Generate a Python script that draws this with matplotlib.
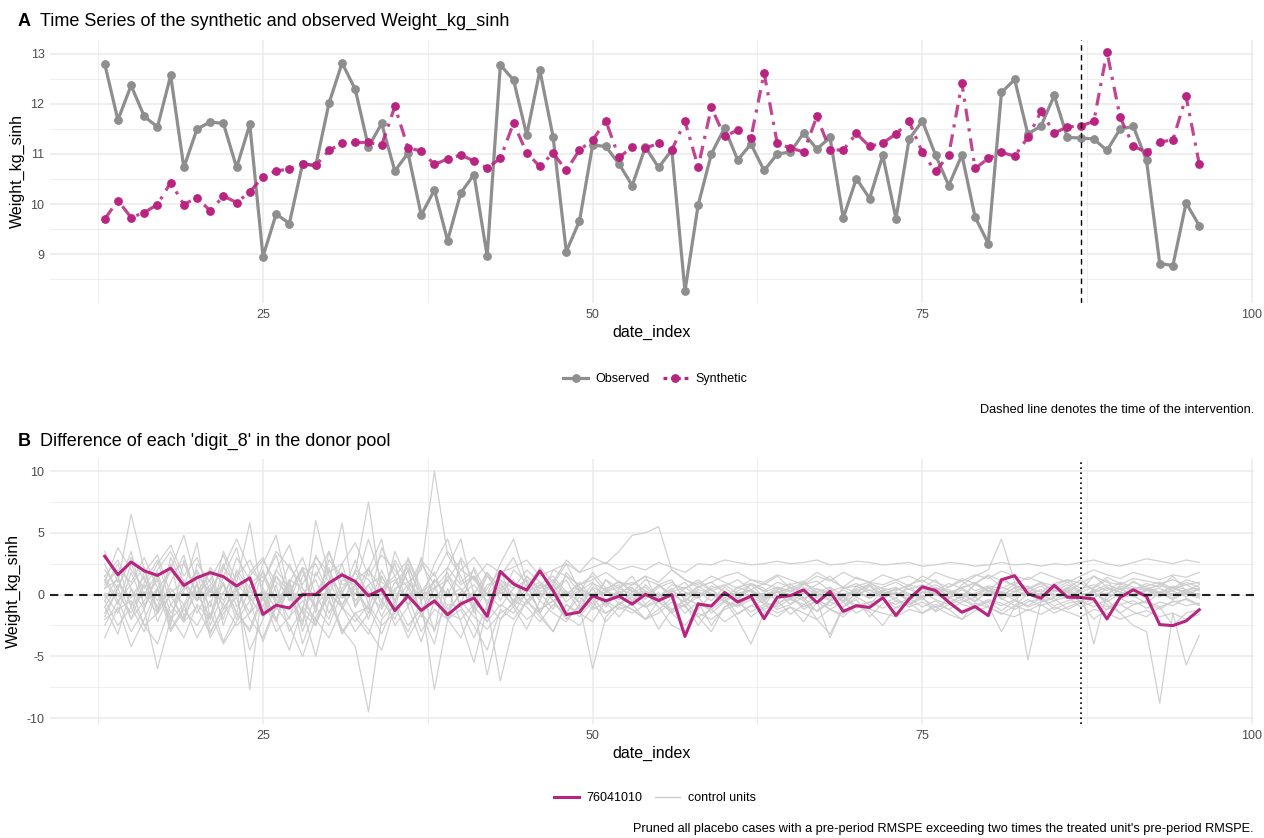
import numpy as np
import matplotlib
matplotlib.use("Agg")
import matplotlib.pyplot as plt
from matplotlib.lines import Line2D

plt.rcParams["font.family"] = ["Liberation Sans", "DejaVu Sans"]
plt.rcParams["axes.unicode_minus"] = False

# ---------------------------------------------------------------- data
date_index = list(range(13, 97))
intervention = 87

observed = [
    12.80, 11.68, 12.37, 11.75, 11.54, 12.57, 10.73, 11.50, 11.64, 11.61,
    10.73, 11.59, 8.95, 9.80, 9.61, 10.80, 10.77, 12.01, 12.82, 12.29,
    11.14, 11.61, 10.66, 11.02, 9.78, 10.28, 9.27, 10.22, 10.59, 8.96,
    12.78, 12.48, 11.38, 12.67, 11.34, 9.05, 9.66, 11.18, 11.15, 10.80,
    10.37, 11.14, 10.73, 11.08, 8.26, 9.98, 11.00, 11.52, 10.88, 11.20,
    10.67, 11.00, 11.04, 11.42, 11.10, 11.33, 9.72, 10.51, 10.11, 10.97,
    9.71, 11.30, 11.66, 10.98, 10.37, 10.98, 9.74, 9.21, 12.23, 12.49,
    11.40, 11.56, 12.17, 11.33, 11.32, 11.30, 11.07, 11.50, 11.55, 10.87,
    8.81, 8.77, 10.02, 9.57,
]

synthetic = [
    9.70, 10.07, 9.73, 9.83, 9.99, 10.43, 9.99, 10.13, 9.86, 10.16,
    10.03, 10.24, 10.55, 10.66, 10.70, 10.80, 10.77, 11.07, 11.22, 11.23,
    11.23, 11.18, 11.95, 11.12, 11.06, 10.79, 10.90, 10.98, 10.86, 10.72,
    10.91, 11.62, 11.02, 10.75, 11.02, 10.67, 11.08, 11.28, 11.66, 10.93,
    11.14, 11.12, 11.21, 11.08, 11.65, 10.74, 11.93, 11.35, 11.48, 11.32,
    12.62, 11.21, 11.12, 11.04, 11.75, 11.08, 11.08, 11.41, 11.15, 11.22,
    11.40, 11.65, 11.03, 10.65, 10.98, 12.41, 10.71, 10.91, 11.03, 10.96,
    11.33, 11.85, 11.42, 11.54, 11.56, 11.65, 13.04, 11.73, 11.16, 11.03,
    11.24, 11.28, 12.15, 10.80,
]

treated_unit = "76041010"

# gaps (unit minus its synthetic control) for the placebo donor units
control_gaps = [
    [1.5, 2.8, 0.5, -1.2, 2.0, 3.5, 1.0, -0.5, 2.2, 0.8,
     -1.5, 1.8, 3.0, 0.2, -2.0, 1.5, 2.5, 0.0, -1.0, 2.0,
     1.2, -0.5, 2.8, 1.0, 2.0, 10.0, 3.2, 1.5, -0.8, 1.8,
     0.5, 1.2, -0.5, 0.8, 1.5, 0.2, -0.6, 0.9, 0.4, 1.1,
     0.3, -0.4, 0.6, 1.0, 0.2, -0.3, 0.5, 0.8, 0.1, 0.4,
     -0.2, 0.6, 0.3, 0.9, 0.2, -0.4, 0.5, 0.7, 0.1, 0.3,
     0.6, -0.1, 0.4, 0.8, 0.2, 0.5, 1.0, 0.3, -0.2, 0.6,
     0.4, 0.9, 0.2, 0.5, 1.2, 0.3, 0.8, 0.4, 1.0, 0.6,
     0.2, 0.7, 0.4, 0.5],
    [3.5, 1.0, 6.5, 2.0, -1.5, 3.0, 0.5, 4.2, -2.0, 1.5,
     3.8, -0.5, 2.5, 4.8, 0.0, -2.5, 3.2, 1.0, 5.8, -1.0,
     2.0, 4.5, -1.2, 3.0, 0.5, -3.0, 2.2, 4.5, 0.0, 1.8,
     -0.5, 2.0, 1.0, -1.5, 0.8, 2.5, 0.3, -0.8, 1.2, 0.5,
     1.5, -0.2, 0.8, 1.2, -0.5, 0.6, 1.0, 0.2, -0.3, 0.9,
     0.5, -0.6, 0.8, 1.1, 0.0, 0.4, -0.5, 0.7, 1.0, 0.2,
     -0.3, 0.8, 0.5, 1.2, 0.1, -0.4, 0.9, 1.5, 0.6, 0.2,
     0.7, -0.2, 0.5, 1.0, 0.3, 1.5, 0.6, 0.2, 1.1, 0.4,
     0.8, 0.3, 1.0, 0.6],
    [-1.0, -3.2, 0.5, -2.5, -4.0, -0.8, -2.2, 1.0, -3.5, -1.5,
     -0.2, -4.5, -2.0, 0.8, -3.0, -1.2, -5.0, -0.5, -2.8, -4.2,
     -9.5, -2.0, -0.8, -3.5, -1.5, -4.0, 0.5, -2.2, -5.5, -1.0,
     -7.0, -2.5, -0.5, -1.8, -3.0, -0.8, -1.5, -2.2, -0.5, -1.2,
     -0.8, -2.0, -1.2, -0.3, -1.5, -0.6, -2.5, -1.0, -0.4, -1.8,
     -1.0, -0.5, -1.6, -0.8, -0.2, -1.2, -0.6, -1.5, -0.9, -0.3,
     -1.1, -0.7, -0.2, -1.4, -0.8, -0.4, -1.0, -0.6, -1.3, -0.5,
     -0.9, -0.3, -1.2, -0.7, -0.5, -1.0, -0.4, -1.5, -0.8, -0.6,
     -1.2, -0.5, -0.9, -0.7],
    [2.0, 0.5, 3.5, -1.0, 1.5, -2.5, 2.8, 0.0, -1.8, 2.2,
     0.8, -7.7, 1.0, 3.2, -0.5, 2.0, -1.5, 3.5, 0.2, 1.8,
     7.5, 0.0, 2.5, -1.0, 3.0, -0.5, 1.2, 2.8, -1.5, 0.5,
     2.0, -0.8, 1.5, 0.2, -1.2, 1.8, 0.6, -0.3, 1.2, 0.0,
     0.8, 1.5, -0.6, 0.4, 1.0, -0.2, 0.7, 0.3, -0.5, 0.9,
     0.2, 0.6, -0.3, 0.9, 0.4, 0.1, -0.6, 0.5, 0.8, 0.0,
     0.4, 0.7, -0.2, 0.3, 0.9, 0.5, -0.1, 0.6, 0.2, 0.8,
     0.3, -0.4, 0.6, 0.2, 0.9, 0.4, 0.0, 0.7, 0.3, 0.5,
     0.1, 0.6, 0.2, 0.4],
    [-2.5, -0.5, -3.0, -1.2, -6.0, -2.0, -0.8, -3.5, -1.5, -4.0,
     -2.2, -0.5, -3.8, -1.0, -2.5, -5.0, -1.8, -0.2, -3.2, -1.5,
     -2.8, -4.5, -1.0, -3.0, -0.5, -7.7, -2.0, -1.2, -3.5, -0.8,
     -2.0, -1.0, -2.8, -0.5, -1.5, -2.2, -0.8, -6.0, -1.8, -0.6,
     -1.2, -2.0, -0.5, -1.5, -0.8, -2.5, -1.0, -0.3, -1.6, -0.9,
     -0.5, -1.2, -0.8, -0.2, -1.4, -0.6, -1.0, -0.4, -1.8, -0.7,
     -0.3, -1.0, -0.6, -1.3, -0.2, -0.8, -1.1, -0.5, -0.9, -0.4,
     -1.0, -0.6, -0.3, -1.2, -0.7, -0.4, -1.0, -0.8, -0.5, -1.1,
     -0.6, -0.9, -0.3, -0.8],
    [0.5, 2.5, -1.0, 1.8, 3.2, 0.0, -2.0, 2.5, 1.0, -0.5,
     3.0, 1.2, -1.5, 2.0, 4.0, 0.5, -1.0, 2.8, 1.5, 0.0,
     2.2, -1.0, 3.5, 1.0, -0.5, 2.5, 4.5, 1.0, 2.0, -0.8,
     1.5, 3.0, 0.5, 2.2, 1.0, 2.8, 1.8, 3.0, 2.5, 3.5,
     4.8, 5.0, 5.5, 2.0, 1.2, 0.8, 1.5, 1.0, 0.5, 1.2,
     0.8, 1.5, 0.5, 1.0, 1.8, 1.2, 0.6, 1.4, 1.0, 0.8,
     1.2, 0.7, 1.5, 1.0, 0.6, 1.3, 0.9, 1.6, 1.1, 0.8,
     1.4, 1.0, 0.7, 1.2, 0.9, 1.5, 1.0, 0.8, 1.3, 1.1,
     0.9, 1.2, 0.8, 1.0],
    [1.0, 3.8, 2.0, 0.5, 2.5, 4.0, 1.5, 3.0, 0.2, 2.2,
     4.5, 2.0, 1.0, 3.5, 2.2, 0.8, 3.0, 1.8, 2.5, 4.2,
     1.5, 3.2, 2.0, 0.5, 2.8, 1.5, 3.5, 2.0, 1.2, 2.5,
     1.8, 2.2, 2.8, 1.5, 2.0, 2.5, 1.8, 2.2, 2.6, 2.0,
     2.3, 2.0, 2.6, 2.2, 1.8, 2.5, 2.4, 2.8, 2.6, 2.4,
     2.5, 2.7, 2.5, 2.6, 2.8, 2.4, 2.5, 2.7, 2.6, 2.4,
     2.5, 2.6, 2.3, 2.4, 2.6, 2.5, 2.3, 2.4, 2.6, 2.4,
     2.5, 2.3, 2.5, 2.4, 2.6, 2.8, 2.5, 2.3, 2.6, 2.9,
     2.7, 2.5, 2.8, 2.6],
    [-0.5, 1.5, -2.0, 0.8, -1.0, 2.5, -1.8, 0.2, 1.8, -2.5,
     0.5, -1.5, 2.0, -0.8, 1.2, -3.0, 0.0, 2.2, -1.2, 0.8,
     -2.0, 1.5, -0.5, 2.0, -1.8, 0.5, 1.8, -1.0, 0.3, -2.2,
     1.0, -0.5, 0.8, -1.5, 0.2, 1.2, -0.8, 0.5, -1.0, 0.3,
     -0.5, 0.8, -0.2, 0.5, -1.0, 0.2, -0.5, 0.6, -0.3, 0.4,
     -0.8, 0.3, -0.4, 0.6, 0.0, -0.5, 0.4, -0.2, 0.7, -0.3,
     0.2, -0.6, 0.5, 0.0, -0.4, 0.8, 1.5, 2.0, 4.5, 1.0,
     -5.3, -0.5, 0.8, 0.2, -0.6, 0.5, 1.2, -0.3, 0.4, 0.9,
     0.6, 1.5, 0.3, 0.8],
    [-3.5, -1.0, -4.2, -2.0, 0.5, -3.0, -1.2, -2.5, -0.5, -3.8,
     -1.5, -2.8, 0.2, -2.0, -4.5, -1.0, -2.2, 0.5, -3.0, -1.5,
     -1.0, -3.2, -0.5, -2.5, -1.2, 0.0, -2.0, -3.5, -1.0, -2.2,
     -0.8, -1.5, 0.2, -1.2, -0.5, -2.0, -1.0, -0.3, -1.5, -0.8,
     -0.2, -1.0, -0.6, -1.4, -0.3, -0.8, -1.2, -0.5, -0.9, -0.2,
     -0.7, -1.0, -0.4, -0.8, -1.3, -0.5, -0.2, -0.9, -0.6, -1.1,
     -0.5, -0.8, -0.3, -1.0, -0.6, -0.2, -0.9, -0.4, -0.7, -1.2,
     -0.6, -0.3, -0.9, -0.5, -0.2, 0.3, -0.8, -1.5, -2.5, -3.0,
     -8.8, -1.5, -5.7, -3.3],
    [0.1, -0.1, 0.0, 0.1, -0.1, 0.0, 0.1, 0.0, -0.1, 0.1,
     0.0, -0.1, 0.1, 0.0, 0.1, -0.1, 0.0, 0.1, -0.1, 0.0,
     0.1, 0.0, -0.1, 0.1, 0.0, -0.1, 0.0, 0.1, 0.0, -0.1,
     0.1, 0.0, -0.1, 0.0, 0.1, -0.1, 0.0, 0.1, 0.0, -0.1,
     0.0, 0.1, -0.1, 0.0, 0.1, 0.0, -0.1, 0.1, 0.0, 0.0,
     0.1, -0.1, 0.0, 0.1, 0.0, -0.1, 0.0, 0.1, -0.1, 0.0,
     0.1, 0.0, -0.1, 0.0, 0.1, 0.0, -0.1, 0.1, 0.0, -0.1,
     0.0, 0.1, 0.0, -0.1, 0.1, 0.0, -0.1, 0.0, 0.1, 0.0,
     -0.1, 0.1, 0.0, 0.1],
    [-0.2, 0.1, -0.1, 0.2, 0.0, -0.2, 0.1, -0.1, 0.2, 0.0,
     -0.1, 0.2, 0.0, -0.2, 0.1, 0.0, 0.2, -0.1, 0.0, 0.1,
     -0.2, 0.0, 0.1, -0.1, 0.2, 0.0, -0.1, 0.1, -0.2, 0.0,
     0.2, -0.1, 0.0, 0.1, -0.2, 0.1, 0.0, -0.1, 0.2, 0.0,
     -0.1, 0.1, 0.0, -0.2, 0.1, 0.2, -0.1, 0.0, 0.1, -0.1,
     0.0, 0.2, -0.1, 0.1, 0.0, -0.2, 0.1, 0.0, -0.1, 0.2,
     0.0, -0.1, 0.2, 0.1, -0.2, 0.0, 0.1, -0.1, 0.2, 0.0,
     -0.1, 0.1, 0.0, 0.2, -0.1, 0.0, 0.1, -0.2, 0.0, 0.1,
     0.2, -0.1, 0.1, 0.0],
    [1.2, -0.8, 2.5, 0.0, -1.5, 1.0, 3.2, -0.5, 0.8, -2.0,
     2.0, 0.5, -1.0, 1.5, 0.2, -2.2, 1.8, 0.0, 2.5, -1.0,
     0.8, 1.5, -0.5, 2.0, -1.8, 0.5, 1.2, -0.8, 2.2, 0.0,
     -1.0, 0.5, 1.2, -0.2, 0.8, -1.5, 0.3, 1.0, -0.5, 0.2,
     0.6, -0.8, 0.2, -1.5, -2.5, -1.2, 0.0, -0.5, -2.0, -4.0,
     -1.5, -0.8, 0.0, -1.2, -0.5, -3.5, -1.0, -0.2, -0.8, 0.3,
     -0.5, -1.0, 0.2, -0.4, -0.8, 0.0, -0.6, 0.3, -0.3, -0.9,
     0.1, -0.5, -0.2, 0.4, -0.6, 0.0, -0.4, 0.5, -0.1, -0.7,
     0.2, -0.3, 0.4, -0.2],
    [-1.8, 0.5, 3.0, 1.2, -0.5, 2.0, 4.8, 0.8, -1.0, 3.5,
     1.0, 5.8, -0.5, 2.0, 0.5, -1.5, 6.0, 1.5, 0.0, 2.8,
     -0.8, 3.8, 1.5, -1.0, 2.5, 0.8, -2.0, 3.0, 1.2, 0.0,
     2.5, 4.5, 1.0, -0.5, 2.0, 1.5, 0.2, 1.8, 0.5, 1.0,
     0.2, 1.2, 0.8, -0.3, 0.5, 1.0, 0.3, 0.7, 1.2, 0.4,
     0.9, 0.5, 0.2, 0.8, 1.1, 0.3, 0.6, 0.1, 0.9, 0.5,
     0.3, 0.8, 1.2, 0.5, 0.0, 0.6, 0.9, 0.2, 1.3, 0.7,
     0.5, 1.0, 0.3, 0.8, 0.2, 0.6, 1.4, 0.9, 0.4, 0.7,
     1.0, 0.5, 0.8, 0.3],
    [-0.5, -2.5, -1.0, -3.0, 0.5, -1.8, -3.5, -0.8, -2.0, 1.0,
     -1.5, -3.0, -0.2, -2.2, 0.8, -4.0, -1.0, -2.5, 0.2, -1.8,
     -3.2, -0.5, -2.0, 0.5, -1.5, -2.8, -0.8, -1.0, -2.5, -4.5,
     -1.2, -2.0, -0.5, -1.5, -3.0, -0.8, -1.8, -0.5, -2.2, -1.0,
     -1.5, -0.8, -2.8, -1.2, -0.5, -1.8, -3.0, -1.0, -0.6, -1.4,
     -0.8, -1.5, -1.0, -2.2, -0.6, -1.2, -1.8, -0.9, -1.4, -2.5,
     -1.0, -0.6, -1.5, -0.8, -1.2, -2.0, -0.7, -1.0, -1.6, -0.9,
     -1.3, -0.8, -1.5, -1.0, -0.6, -2.0, -1.2, -0.8, -1.4, -1.8,
     -1.0, -2.5, -1.5, -1.2],
    [2.5, 0.0, -1.5, 1.0, 2.8, -0.8, 0.5, 1.8, -2.5, 0.2,
     1.5, 2.8, 0.5, -1.2, 1.0, 3.0, 0.0, -2.0, 1.2, 0.8,
     4.5, 1.0, 0.2, 2.5, -0.5, 1.2, 0.0, 2.0, 3.0, 1.5,
     0.8, -0.5, 1.5, 0.5, 1.2, 0.0, 0.8, 1.5, 0.2, 0.6,
     1.0, 0.3, -0.2, 0.8, 0.5, 1.2, 0.4, -0.3, 0.6, 0.9,
     0.3, 1.0, 0.6, 0.2, 0.8, 1.5, 0.5, 0.9, 0.3, 0.6,
     1.0, 0.4, 0.8, 0.2, 0.6, 1.1, 0.3, 0.7, 0.5, 1.0,
     0.6, 0.2, 0.9, 1.2, 0.5, 0.8, 0.3, 1.0, 0.6, 0.4,
     0.8, 0.5, 1.2, 0.9],
    [-1.5, 0.5, -2.0, -0.5, 1.2, -2.8, -1.0, 0.8, -3.0, -1.2,
     0.5, -2.0, -3.5, -0.8, 1.0, -1.5, -2.5, 0.2, -1.0, -3.0,
     -1.5, 0.5, -2.5, -1.0, -3.8, -0.5, -1.5, -2.0, -0.8, -6.5,
     -2.0, -0.5, -1.0, -2.2, -0.8, -1.5, -0.2, -1.2, -0.6, -1.8,
     -0.5, -1.0, -0.3, -1.2, -0.8, -0.2, -1.5, -0.6, -1.0, -0.4,
     -1.2, -0.7, -0.3, -1.0, -0.5, -0.9, -0.2, -1.1, -0.6, -0.4,
     -0.8, -0.3, -1.0, -0.5, -1.2, -0.6, -0.2, -0.9, -3.0, -1.0,
     -0.4, -0.9, -0.5, -0.2, -1.0, -0.6, -1.2, -0.3, -0.8, -0.5,
     -1.0, -0.6, -0.4, -0.9],
    [0.8, 2.0, 1.0, 3.0, 0.5, 1.8, 2.5, 0.0, 1.2, 3.2,
     0.2, 1.5, 2.8, 1.0, 0.0, 2.2, 1.5, 3.5, 0.8, 1.2,
     2.0, 0.5, 1.5, 2.8, 0.2, 1.0, 2.2, 0.8, 1.5, 0.0,
     1.2, 0.5, 2.0, 1.0, 0.2, 1.5, 0.8, 1.2, 1.8, 1.0,
     0.8, 1.5, 1.0, 2.0, 1.2, 0.6, 1.0, 1.5, 1.8, 1.2,
     1.0, 1.6, 1.2, 0.8, 1.5, 1.1, 1.8, 1.3, 1.0, 1.6,
     1.2, 1.5, 1.0, 1.8, 1.4, 1.1, 1.6, 1.3, 1.9, 1.5,
     1.2, 1.8, 1.4, 1.0, 1.5, 2.0, 1.6, 1.3, 1.8, 1.5,
     1.2, 1.6, 1.4, 1.8],
    [-2.0, -1.2, -0.5, -2.5, -1.5, 0.0, -2.2, -1.0, -3.2, -0.8,
     -2.5, -1.5, -0.2, -3.0, -1.8, -0.5, -2.0, -3.5, -1.0, -2.2,
     -0.8, -2.5, -1.5, -0.2, -3.0, -1.2, -2.0, -0.5, -1.8, -2.8,
     -1.5, -0.8, -2.0, -1.2, -0.5, -1.8, -2.5, -1.0, -1.5, -0.8,
     -1.2, -2.0, -1.5, -0.6, -1.0, -1.8, -1.2, -2.2, -1.5, -0.9,
     -1.3, -1.8, -1.0, -1.5, -2.0, -1.2, -1.6, -0.8, -1.2, -1.5,
     -1.8, -1.2, -1.5, -1.0, -1.6, -2.0, -1.3, -1.0, -1.5, -1.8,
     -1.2, -1.6, -1.0, -1.4, -1.8, -1.2, -1.5, -2.0, -1.6, -1.3,
     -1.8, -1.5, -2.0, -1.6],
    [0.0, -1.5, 1.8, -0.8, 0.5, -2.0, 1.2, -0.5, 2.0, -1.2,
     0.8, -0.2, -1.8, 1.5, -0.5, 0.2, -2.5, 1.0, -0.8, 0.5,
     -1.2, 2.0, -0.5, 0.8, -1.5, 1.2, -0.2, 0.5, -1.0, 1.5,
     0.2, -0.8, 0.5, 1.0, -0.5, 0.3, -1.2, 0.6, 0.0, -0.4,
     0.5, -0.2, 0.8, 0.0, -0.6, 0.4, 0.1, -0.3, 0.6, 0.2,
     -0.4, 0.3, 0.0, -0.5, 0.5, 0.1, -0.2, 0.4, -0.3, 0.2,
     0.0, 0.5, -0.3, 0.2, 0.4, -0.2, 0.1, 0.6, -0.4, 0.3,
     0.0, 0.4, -0.2, 0.6, 0.1, -0.3, 0.5, 0.2, -0.1, 0.4,
     0.0, 0.3, -0.2, 0.5],
    [1.5, -0.5, 0.8, 2.2, -1.2, 0.5, -0.8, 1.5, 0.2, 2.5,
     -1.0, 0.8, 1.8, -0.5, 2.5, 0.0, 1.2, -1.5, 0.5, 1.8,
     0.2, -1.2, 1.0, 2.2, 0.0, -0.8, 1.5, 0.5, -1.2, 0.8,
     1.2, 0.0, -0.8, 0.5, 1.0, -0.2, 0.6, -1.0, 0.3, 0.8,
     -0.5, 0.2, -1.0, -2.5, -3.0, -1.5, -2.0, -1.2, -0.8, 0.0,
     -0.5, 0.2, -0.8, 0.3, -0.2, 0.5, -0.6, 0.0, 0.4, -0.3,
     0.2, -0.5, 0.6, 0.0, -0.3, 0.4, -0.2, 0.5, 0.1, -0.4,
     0.3, 0.0, -0.5, 0.5, -0.2, 0.2, 0.6, -0.3, 0.0, 0.4,
     -0.2, 0.5, 0.1, -0.3],
    [-1.0, 0.8, -0.3, 1.5, -2.2, 0.2, 1.0, -1.5, 0.5, -0.8,
     1.8, -0.5, 0.3, -2.0, 1.2, 0.5, -1.0, 2.0, -0.3, 0.8,
     -1.5, 0.5, 1.2, -0.8, 0.2, 1.8, -1.2, 0.0, 0.8, -0.5,
     0.5, -1.0, 0.2, 0.8, -0.5, 0.0, 1.0, -0.3, 0.5, -0.8,
     0.2, 0.6, -0.4, 0.3, -0.2, 0.7, 0.0, -0.5, 0.3, 0.8,
     -0.2, 0.4, 0.9, -0.3, 0.2, 0.6, -0.1, 0.3, 0.7, 0.0,
     0.5, 0.1, -0.4, 0.6, 0.2, -0.1, 0.8, 0.3, 0.0, 0.5,
     0.2, 0.7, 0.0, -0.3, 0.4, -4.0, 0.1, 0.6, -0.2, 0.3,
     0.5, 0.0, 0.4, -0.1],
    [0.5, 1.2, -0.8, 0.0, 1.8, -1.5, 0.3, 2.0, -0.2, 0.8,
     -2.0, 0.5, 1.5, -0.8, 0.2, 2.2, -1.0, 0.6, 1.8, -0.5,
     0.8, -1.8, 0.5, 1.0, -0.2, 0.6, -1.5, 0.2, 1.5, -0.8,
     0.3, 1.0, -0.5, 0.2, 0.8, -0.6, 0.4, 0.0, -0.8, 0.5,
     0.0, 0.3, -0.5, 0.2, 0.6, -0.2, 0.4, -0.6, 0.1, 0.3,
     -0.3, 0.2, 0.5, -0.4, -2.0, -3.2, -1.0, 0.2, -0.3, 0.4,
     0.0, -0.3, 0.2, 0.5, -0.2, 0.1, -0.5, 0.3, 0.0, -0.2,
     0.3, -0.1, 0.4, 0.0, -0.3, 0.2, -0.6, 0.1, 0.4, -0.2,
     0.1, -0.4, 0.2, 0.0],
]

# ---------------------------------------------------------------- style
W, H = 1264, 838
GRAY_OBS = "#8e8e8e"
MAGENTA = "#b8247f"
CONTROL = "#cccccc"
GRID = "#ebebeb"
TICK = "#4d4d4d"

fig = plt.figure(figsize=(W / 100, H / 100), dpi=100)


def px_axes(left, top, right, bottom):
    return fig.add_axes([left / W, 1 - bottom / H, (right - left) / W, (bottom - top) / H])


def expand(lo, hi, frac=0.05):
    pad = (hi - lo) * frac
    return lo - pad, hi + pad


def style_axes(ax, yticks, yminor):
    x = np.asarray(date_index)
    ax.set_xlim(*expand(x.min(), x.max()))
    ax.set_xticks([25, 50, 75, 100])
    ax.set_xticks([12.5, 37.5, 62.5, 87.5], minor=True)
    ax.set_yticks(yticks)
    ax.set_yticks(yminor, minor=True)
    ax.grid(which="major", color=GRID, lw=1.1, zorder=0)
    ax.grid(which="minor", color=GRID, lw=0.6, zorder=0)
    ax.set_axisbelow(True)
    for s in ax.spines.values():
        s.set_visible(False)
    ax.tick_params(which="both", length=0, labelsize=9, labelcolor=TICK, pad=4)
    ax.set_xlabel("date_index", fontsize=11.5, labelpad=3)
    ax.set_ylabel("Weight_kg_sinh", fontsize=11.5, labelpad=4)


# ---------------------------------------------------------------- panel A
ax1 = px_axes(50, 40, 1254, 303)
ax1.plot(date_index, observed, color=GRAY_OBS, lw=2.3, marker="o", ms=5.3,
         zorder=3, solid_joinstyle="round")
ax1.plot(date_index, synthetic, color=MAGENTA, lw=2.3, alpha=0.85,
         dashes=(4, 2.2, 1, 2.2), zorder=4)
ax1.plot(date_index, synthetic, color=MAGENTA, lw=0, marker="o", ms=5.3, zorder=5)
ax1.axvline(intervention, color="black", lw=1.0, ls=(0, (4, 3)), zorder=6)
allv = observed + synthetic
ax1.set_ylim(*expand(min(allv), max(allv)))
style_axes(ax1, [9, 10, 11, 12, 13], [8.5, 9.5, 10.5, 11.5, 12.5])

fig.text(18 / W, 1 - 21 / H, "A", fontsize=13, fontweight="bold", va="center")
fig.text(40 / W, 1 - 21 / H, "Time Series of the synthetic and observed Weight_kg_sinh",
         fontsize=13, va="center")

leg_a = [
    Line2D([], [], color=GRAY_OBS, lw=2.3, marker="o", ms=5.3),
    Line2D([], [], color=MAGENTA, lw=2.3, dashes=(1.2, 1.2, 3, 1.2), marker="o", ms=5.3),
]
fig.legend(leg_a, ["Observed", "Synthetic"], loc="center",
           bbox_to_anchor=(655 / W, 1 - 379 / H), ncol=2, frameon=False,
           fontsize=9, handlelength=2.0, columnspacing=1.0, handletextpad=0.6)
fig.text(1254 / W, 1 - 410 / H, "Dashed line denotes the time of the intervention.",
         ha="right", va="center", fontsize=9.2)

# ---------------------------------------------------------------- panel B
ax2 = px_axes(50, 459, 1254, 724)
for gap in control_gaps:
    ax2.plot(date_index, gap, color=CONTROL, lw=0.9, alpha=0.9, zorder=2)
treated_gap = np.asarray(observed) - np.asarray(synthetic)
ax2.plot(date_index, treated_gap, color=MAGENTA, lw=2.2, zorder=4)
ax2.axhline(0, color="#222222", lw=1.5, ls=(0, (4, 3)), zorder=5)
ax2.axvline(intervention, color="black", lw=1.2, ls=(0, (1, 2)), zorder=5)
allg = np.concatenate([np.ravel(control_gaps), treated_gap])
ax2.set_ylim(*expand(allg.min(), allg.max()))
style_axes(ax2, [-10, -5, 0, 5, 10], [-7.5, -2.5, 2.5, 7.5])

fig.text(18 / W, 1 - 441 / H, "B", fontsize=13, fontweight="bold", va="center")
fig.text(40 / W, 1 - 441 / H, "Difference of each 'digit_8' in the donor pool",
         fontsize=13, va="center")

leg_b = [
    Line2D([], [], color=MAGENTA, lw=2.2),
    Line2D([], [], color=CONTROL, lw=1.0),
]
fig.legend(leg_b, [treated_unit, "control units"], loc="center",
           bbox_to_anchor=(655 / W, 1 - 798 / H), ncol=2, frameon=False,
           fontsize=9, handlelength=2.0, columnspacing=1.0, handletextpad=0.6)
fig.text(1254 / W, 1 - 829 / H,
         "Pruned all placebo cases with a pre-period RMSPE exceeding two times "
         "the treated unit's pre-period RMSPE.",
         ha="right", va="center", fontsize=9.2)

fig.savefig("out.png", dpi=100)
